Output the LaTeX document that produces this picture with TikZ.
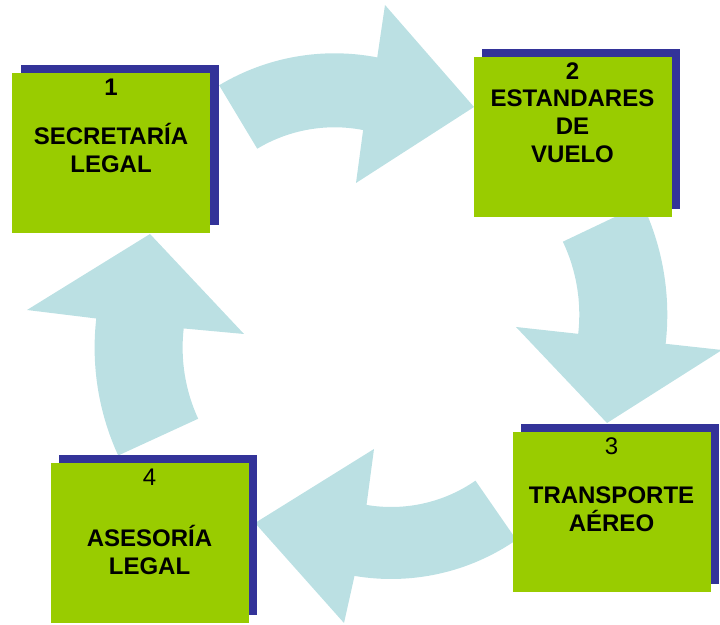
\documentclass[tikz,border=0pt]{standalone}
\usepackage{fontspec}
\setmainfont{Liberation Sans}
\usetikzlibrary{calc,positioning}
\definecolor{boxgreen}{HTML}{99CC00}
\definecolor{shadowblue}{HTML}{333399}
\definecolor{arrowblue}{HTML}{BBE0E3}

\begin{document}
\begin{tikzpicture}[
    x = 1pt, y = 1pt,
    line join=round,
    arrowstyle/.style = {fill=arrowblue},
    boxstyle/.style = {fill=boxgreen, minimum width=198pt, minimum height=160pt, inner sep=0pt},
    shadowstyle/.style = {boxstyle, fill=shadowblue},
    textstyle/.style = {align=center, inner sep=0pt, font=\fontsize{24}{28}\selectfont\bfseries}
]
    \useasboundingbox (0,0) rectangle (720,624);

    \coordinate (c1) at (334.5,346.7);
    \coordinate (c2) at (409.3,309.4);
    \coordinate (c3) at (391.2,265);
    \coordinate (c4) at (352.6,276.3);

    \coordinate (h1o) at (385,619);
    \coordinate (p1) at (474,517);
    \coordinate (h1i) at (356,441);
    \coordinate (h2o) at (722,274);
    \coordinate (p2) at (607,201);
    \coordinate (h2i) at (516,297);
    \coordinate (h3o) at (344,1);
    \coordinate (p3) at (255,101);
    \coordinate (h3i) at (374,175);
    \coordinate (h4o) at (27,314);
    \coordinate (p4) at (150,390);
    \coordinate (h4i) at (244,290);

    % curved arrows
    \fill[arrowstyle] ($(c1)+(121:224)$) arc[start angle=121, end angle=79, radius=224]
        -- (h1o) -- (p1) -- (h1i)
        -- ($(c1)+(79:150)$) arc[start angle=79, end angle=121, radius=150] -- cycle;
    \fill[arrowstyle] ($(c2)+(25.4:258)$) arc[start angle=25.4, end angle=-6.5, radius=258]
        -- (h2o) -- (p2) -- (h2i)
        -- ($(c2)+(-6.5:170)$) arc[start angle=-6.5, end angle=25.4, radius=170] -- cycle;
    \fill[arrowstyle] ($(c3)+(-55.3:220)$) arc[start angle=-55.3, end angle=-99.6, radius=220]
        -- (h3o) -- (p3) -- (h3i)
        -- ($(c3)+(-99.6:148)$) arc[start angle=-99.6, end angle=-55.3, radius=148] -- cycle;
    \fill[arrowstyle] ($(c4)+(204.7:258)$) arc[start angle=204.7, end angle=173.5, radius=258]
        -- (h4o) -- (p4) -- (h4i)
        -- ($(c4)+(173.5:170)$) arc[start angle=173.5, end angle=204.7, radius=170] -- cycle;

    % boxes
    \node[shadowstyle] (s1) at (119.5,479) {};
    \node[boxstyle] (b1) at (111,471) {};
    \node[shadowstyle] (s2) at (580.5,495) {};
    \node[boxstyle] (b2) at (572.5,487) {};
    \node[shadowstyle] (s3) at (619.5,120) {};
    \node[boxstyle] (b3) at (611.5,112) {};
    \node[shadowstyle] (s4) at (157.5,89) {};
    \node[boxstyle] (b4) at (149.5,81) {};

    \node[textstyle, below=6pt of b1.north] (l1) {1\\[21.4pt]SECRETARÍA\\LEGAL};
    \node[textstyle, below=6pt of b2.north] (l2) {2\\[-1.6pt]ESTANDARES\\DE\\VUELO};
    \node[textstyle, below=6pt of b3.north] (l3) {{\mdseries 3}\\[20.4pt]TRANSPORTE\\AÉREO};
    \node[textstyle, below=6pt of b4.north] (l4) {{\mdseries 4}\\[33.4pt]ASESORÍA\\LEGAL};
\end{tikzpicture}
\end{document}
